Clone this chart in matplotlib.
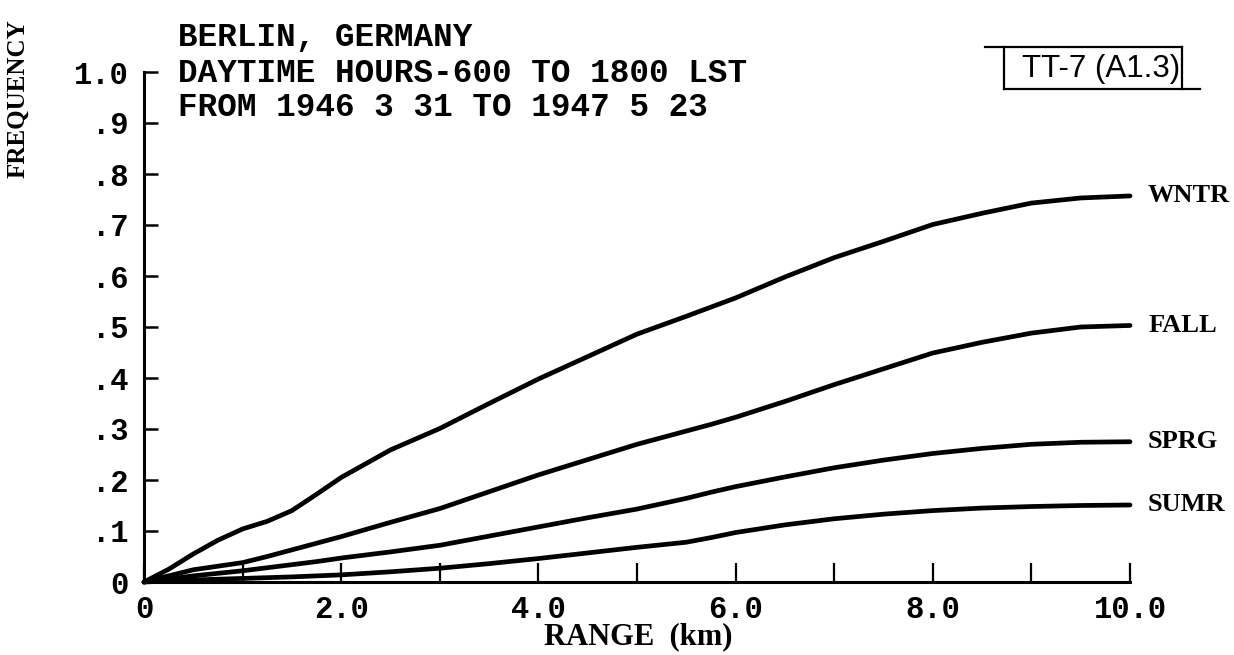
import matplotlib
matplotlib.use("Agg")
import matplotlib.pyplot as plt
from matplotlib.lines import Line2D
from matplotlib.ticker import FixedLocator, FixedFormatter

# Range (km) at which the cumulative frequencies are tabulated
range_km = [0, 0.25, 0.5, 0.75, 1.0, 1.25, 1.5, 1.75, 2.0, 2.5, 3.0, 3.5, 4.0,
            4.5, 5.0, 5.5, 5.75, 6.0, 6.5, 7.0, 7.5, 8.0, 8.5, 9.0, 9.5, 10.0]

wntr = [0, 0.025, 0.055, 0.082, 0.104, 0.119, 0.140, 0.172, 0.205, 0.259, 0.301,
        0.350, 0.398, 0.442, 0.486, 0.521, 0.539, 0.557, 0.598, 0.636, 0.668,
        0.701, 0.723, 0.743, 0.753, 0.757]
fall = [0, 0.012, 0.024, 0.031, 0.038, 0.050, 0.063, 0.076, 0.089, 0.117, 0.144,
        0.177, 0.210, 0.240, 0.270, 0.296, 0.309, 0.323, 0.354, 0.387, 0.418,
        0.449, 0.470, 0.488, 0.500, 0.503]
sprg = [0, 0.006, 0.012, 0.017, 0.022, 0.028, 0.034, 0.040, 0.047, 0.059, 0.072,
        0.090, 0.108, 0.126, 0.143, 0.164, 0.176, 0.187, 0.206, 0.224, 0.239,
        0.252, 0.262, 0.270, 0.274, 0.275]
sumr = [0, 0.002, 0.004, 0.0055, 0.007, 0.0085, 0.010, 0.012, 0.014, 0.020, 0.027,
        0.036, 0.046, 0.057, 0.068, 0.078, 0.087, 0.097, 0.112, 0.124, 0.133,
        0.140, 0.145, 0.148, 0.150, 0.151]

series_names = ["WNTR", "FALL", "SPRG", "SUMR"]
series_values = [wntr, fall, sprg, sumr]

x_major = [0, 2, 4, 6, 8, 10]
x_major_labels = ["0", "2.0", "4.0", "6.0", "8.0", "10.0"]
x_minor = [1, 3, 5, 7, 9]
y_ticks = [0, 0.1, 0.2, 0.3, 0.4, 0.5, 0.6, 0.7, 0.8, 0.9, 1.0]
y_labels = ["0", ".1", ".2", ".3", ".4", ".5", ".6", ".7", ".8", ".9", "1.0"]

title_lines = ["BERLIN, GERMANY",
               "DAYTIME HOURS-600 TO 1800 LST",
               "FROM 1946 3 31 TO 1947 5 23"]
chart_id = "TT-7 (A1.3)"

W, H = 1234, 655
fig = plt.figure(figsize=(W / 100, H / 100), dpi=100)
fig.patch.set_facecolor("white")

ax = fig.add_axes([144 / W, 1 - 582 / H, (1130 - 144) / W, (582 - 72) / H])
ax.set_xlim(0, 10)
ax.set_ylim(0, 1.0)

for name, vals in zip(series_names, series_values):
    ax.plot(range_km, vals, color="black", lw=3.4, solid_capstyle="round",
            solid_joinstyle="round", clip_on=False)
    ax.annotate(name, (range_km[-1], vals[-1]), xytext=(13, 0),
                textcoords="offset points", va="center", ha="left",
                fontfamily="Liberation Serif", fontweight="bold", fontsize=19,
                annotation_clip=False)

for side in ("top", "right"):
    ax.spines[side].set_visible(False)
for side in ("left", "bottom"):
    ax.spines[side].set_linewidth(2.2)

mono = "Liberation Mono"
ax.xaxis.set_major_locator(FixedLocator(x_major))
ax.xaxis.set_major_formatter(FixedFormatter(x_major_labels))
ax.xaxis.set_minor_locator(FixedLocator(x_minor))
ax.yaxis.set_major_locator(FixedLocator(y_ticks))
ax.yaxis.set_major_formatter(FixedFormatter(y_labels))

ax.tick_params(axis="x", which="both", direction="in", length=14, width=1.6,
               pad=9, labelsize=22)
ax.tick_params(axis="y", which="major", direction="in", length=10, width=1.8,
               pad=11, labelsize=22)
for lab in ax.get_xticklabels() + ax.get_yticklabels():
    lab.set_fontfamily(mono)
    lab.set_fontweight("bold")

# Axis titles
fig.text(638 / W, 1 - 637 / H, "RANGE  (km)", ha="center", va="center",
         fontfamily="Liberation Serif", fontweight="bold", fontsize=22)
fig.text(18 / W, 1 - 99 / H, "FREQUENCY", ha="center", va="center",
         rotation=90, fontfamily="Liberation Serif", fontweight="bold",
         fontsize=18)

# Header block
for i, line in enumerate(title_lines):
    fig.text(178 / W, 1 - (38 + 35 * i) / H, line, ha="left", va="center",
             fontfamily=mono, fontweight="bold", fontsize=23.5)

# Chart identifier box with extended top and bottom rules
def fline(x0, y0, x1, y1):
    fig.add_artist(Line2D([x0 / W, x1 / W], [1 - y0 / H, 1 - y1 / H],
                          color="black", lw=1.6, transform=fig.transFigure))

fline(985, 47, 1182, 47)
fline(1004, 89, 1200, 89)
fline(1004, 47, 1004, 89)
fline(1182, 47, 1182, 89)
fig.text(1022 / W, 1 - 69 / H, chart_id, ha="left", va="center",
         fontfamily="Liberation Sans", fontsize=22.5)

fig.savefig("out.png", dpi=100, facecolor="white")
